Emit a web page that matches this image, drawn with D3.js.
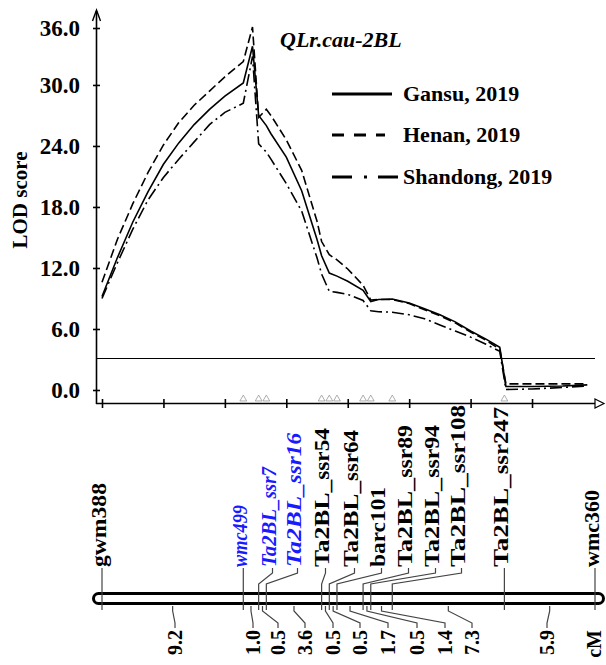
<!DOCTYPE html>
<html>
<head>
<meta charset="utf-8">
<script src="https://cdn.jsdelivr.net/npm/d3@7/dist/d3.min.js"></script>
<style>
  body { margin: 0; background: #fff; }
  text { font-family: "Liberation Serif", "Times New Roman", serif; font-weight: bold; }
</style>
</head>
<body>
<script>
// ---- data ----
var markers = ["gwm388", "wmc499", "Ta2BL_ssr7", "Ta2BL_ssr16", "Ta2BL_ssr54", "Ta2BL_ssr64",
               "barc101", "Ta2BL_ssr89", "Ta2BL_ssr94", "Ta2BL_ssr108", "Ta2BL_ssr247", "wmc360"];
var qtlMarkers = ["wmc499", "Ta2BL_ssr7", "Ta2BL_ssr16"];
// genetic distances between neighbouring markers (cM)
var intervals = [9.2, 1.0, 0.5, 3.6, 0.5, 0.5, 1.7, 0.5, 1.4, 7.3, 5.9];

// LOD scan positions (cM) and scores per environment
var scanPos     = [0, 1, 2, 3, 4, 5, 6, 7, 8, 9.2, 9.8, 10.2, 10.7, 11, 12, 13, 14, 14.3, 14.8, 15.3,
                   16, 17, 17.5, 18, 18.9, 20, 21, 22, 23, 24, 25, 25.9, 26.3, 28, 30, 31.6];
var lodGansu    = [9.2, 13.0, 16.5, 19.5, 22.2, 24.3, 26.1, 27.6, 28.9, 30.2, 33.8, 27.0, 26.0, 25.2, 22.9, 19.6, 14.8, 13.2, 11.5, 11.2,
                   10.7, 9.8, 8.7, 8.9, 8.95, 8.55, 8.0, 7.4, 6.7, 5.8, 5.0, 4.2, 0.35, 0.35, 0.4, 0.5];
var lodHenan    = [10.6, 14.8, 18.3, 21.4, 24.1, 26.3, 28.0, 29.4, 30.8, 32.3, 35.7, 26.8, 27.6, 27.0, 24.6, 21.6, 16.6, 14.6, 13.3, 12.8,
                   11.9, 10.3, 8.85, 8.9, 8.9, 8.5, 7.9, 7.3, 6.6, 5.7, 4.9, 4.0, 0.6, 0.6, 0.6, 0.6];
var lodShandong = [9.0, 12.5, 15.8, 18.7, 20.9, 22.7, 24.4, 26.1, 27.3, 28.2, 32.8, 24.2, 23.4, 22.7, 20.3, 17.6, 13.0, 11.4, 9.7, 9.6,
                   9.4, 8.8, 7.8, 7.7, 7.65, 7.4, 7.0, 6.4, 5.8, 5.2, 4.5, 3.8, 0.05, 0.1, 0.25, 0.4];
var threshold = 3.1;

var seriesNames = ["Gansu, 2019", "Henan, 2019", "Shandong, 2019"];
var yTicks = [0, 6, 12, 18, 24, 30, 35.6];
var yTickLabels = ["0.0", "6.0", "12.0", "18.0", "24.0", "30.0", "36.0"];
var xTicks = [0, 4, 8, 12, 16, 20, 24, 28];

// ---- layout ----
var W = 606, H = 665;
var dashes = ["none", "9,4", "12,4,2,4"];
var legendDashes = ["none", "12,10", "20,12,3,11"];
var legendLen = [60, 53, 68];
// label centre x for markers whose label is pushed sideways (null = straight above marker)
var labelX = [null, null, 268, 293, 321, 350, 377, 404, 431, 457, null, null];
var labelLen = [84, 62, 100, 134, 139, 137, 80, 142, 142, 162, 160, 77];
var distLabelX = [175, 253, 278, 305, 333, 360, 388, 417, 445, 472, 547];

var svg = d3.select("body").append("svg")
  .attr("width", W)
  .attr("height", H);

var x = d3.scaleLinear().domain([0, 32.1]).range([102, 595]);
var y = d3.scaleLinear().domain([0, 35.6]).range([390, 28]);

var markerPos = [0].concat(Array.from(d3.cumsum(intervals)));

// y axis
svg.append("g")
  .attr("transform", "translate(100,0)")
  .call(d3.axisLeft(y).tickValues(yTicks).tickSize(7).tickPadding(13)
    .tickFormat(function(d, i) { return yTickLabels[i]; }))
  .call(function(g) { g.select(".domain").remove(); })
  .call(function(g) {
    g.selectAll("line").attr("stroke", "#000").attr("stroke-width", 1.6);
    g.selectAll("text").attr("font-size", 23).attr("fill", "#000")
      .style("font-family", "Liberation Serif").style("font-weight", "bold");
  });

svg.append("line")
  .attr("x1", 96.5).attr("x2", 96.5).attr("y1", 404).attr("y2", 11)
  .attr("stroke", "#000").attr("stroke-width", 1.6);
svg.append("path")
  .attr("d", "M92.5,21L96.5,10L100.5,21")
  .attr("fill", "none").attr("stroke", "#000").attr("stroke-width", 1.4);

// x axis
svg.append("g")
  .attr("transform", "translate(0,399)")
  .call(d3.axisBottom(x).tickValues(xTicks).tickSize(9).tickFormat(""))
  .call(function(g) { g.select(".domain").remove(); })
  .call(function(g) { g.selectAll("line").attr("stroke", "#000").attr("stroke-width", 1.6); });

svg.append("line")
  .attr("x1", 96).attr("x2", 597).attr("y1", 403.5).attr("y2", 403.5)
  .attr("stroke", "#000").attr("stroke-width", 1.6);
svg.append("path")
  .attr("d", "M595,399L604,403.5L595,408Z")
  .attr("fill", "#fff").attr("stroke", "#000").attr("stroke-width", 1.2);

// axis title
svg.append("text")
  .attr("transform", "translate(20,200) rotate(-90)")
  .attr("text-anchor", "middle")
  .attr("dy", "0.35em")
  .attr("font-size", 21)
  .text("LOD score");

// threshold
svg.append("line")
  .attr("x1", 96).attr("x2", 595)
  .attr("y1", y(threshold)).attr("y2", y(threshold))
  .attr("stroke", "#000").attr("stroke-width", 1.2);

// marker triangles on the x axis
svg.selectAll(".tri")
  .data(markerPos.slice(1, -1))
  .enter().append("path")
  .attr("class", "tri")
  .attr("d", d3.symbol(d3.symbolTriangle, 20))
  .attr("transform", function(d) { return "translate(" + x(d) + ",399)"; })
  .attr("fill", "#fff").attr("stroke", "#999").attr("stroke-width", 0.8);

// LOD curves
var line = d3.line()
  .x(function(d) { return x(d[0]); })
  .y(function(d) { return y(d[1]); });

var allLod = [lodGansu, lodHenan, lodShandong];
allLod.forEach(function(vals, k) {
  svg.append("path")
    .datum(scanPos.map(function(p, i) { return [p, vals[i]]; }))
    .attr("d", line)
    .attr("fill", "none")
    .attr("stroke", "#000")
    .attr("stroke-width", 1.6)
    .attr("stroke-dasharray", dashes[k]);
});

// title
svg.append("text")
  .attr("x", 280).attr("y", 47)
  .attr("font-size", 22)
  .attr("font-style", "italic")
  .text("QLr.cau-2BL");

// legend
var legendY = [94, 135, 177];
seriesNames.forEach(function(name, k) {
  svg.append("line")
    .attr("x1", 332).attr("x2", 332 + legendLen[k])
    .attr("y1", legendY[k]).attr("y2", legendY[k])
    .attr("stroke", "#000").attr("stroke-width", 3)
    .attr("stroke-dasharray", legendDashes[k]);
  svg.append("text")
    .attr("x", 403).attr("y", legendY[k])
    .attr("dy", "0.33em")
    .attr("font-size", 22)
    .text(name);
});

// ---- linkage map ----
svg.append("rect")
  .attr("x", x(0) - 8.5).attr("y", 593.5)
  .attr("width", x(32.1) - x(0) + 17).attr("height", 10)
  .attr("rx", 5).attr("ry", 5)
  .attr("fill", "#fff").attr("stroke", "#000").attr("stroke-width", 3);

markers.forEach(function(m, i) {
  var mx = x(markerPos[i]);
  var cx = labelX[i] === null ? mx - 4 : labelX[i];
  var lx = cx + 4.5;
  var d = labelX[i] === null
    ? "M" + mx + ",568L" + mx + ",610"
    : "M" + lx + ",568L" + lx + ",573L" + mx + ",584L" + mx + ",610";
  svg.append("path")
    .attr("d", d)
    .attr("fill", "none")
    .attr("stroke", "#444")
    .attr("stroke-width", 1.2);

  var isQtl = qtlMarkers.indexOf(m) >= 0;
  var t = svg.append("text")
    .attr("transform", "translate(" + cx + ",567) rotate(-90)")
    .attr("dy", "0.35em")
    .attr("font-size", 22)
    .attr("fill", isQtl ? "#1a1aff" : "#000")
    .attr("font-style", isQtl ? "italic" : "normal")
    .attr("textLength", labelLen[i])
    .attr("lengthAdjust", "spacingAndGlyphs");
  if (m.indexOf("Ta2BL_") === 0) {
    t.append("tspan").text("Ta2BL_");
    t.append("tspan").attr("font-size", 20).text(m.slice(6));
  } else {
    t.text(m);
  }
});

intervals.forEach(function(v, i) {
  var mid = x((markerPos[i] + markerPos[i + 1]) / 2);
  var cx = distLabelX[i];
  svg.append("path")
    .attr("d", "M" + mid + ",606L" + mid + ",611L" + cx + ",623L" + cx + ",628")
    .attr("fill", "none").attr("stroke", "#444").attr("stroke-width", 1.2);
  svg.append("text")
    .attr("transform", "translate(" + cx + ",630) rotate(-90)")
    .attr("text-anchor", "end")
    .attr("dy", "0.35em")
    .attr("font-size", 20)
    .text(v.toFixed(1));
});

svg.append("text")
  .attr("transform", "translate(" + (x(32.1) - 1) + ",630) rotate(-90)")
  .attr("text-anchor", "end")
  .attr("dy", "0.35em")
  .attr("font-size", 20)
  .text("cM");
</script>
</body>
</html>
